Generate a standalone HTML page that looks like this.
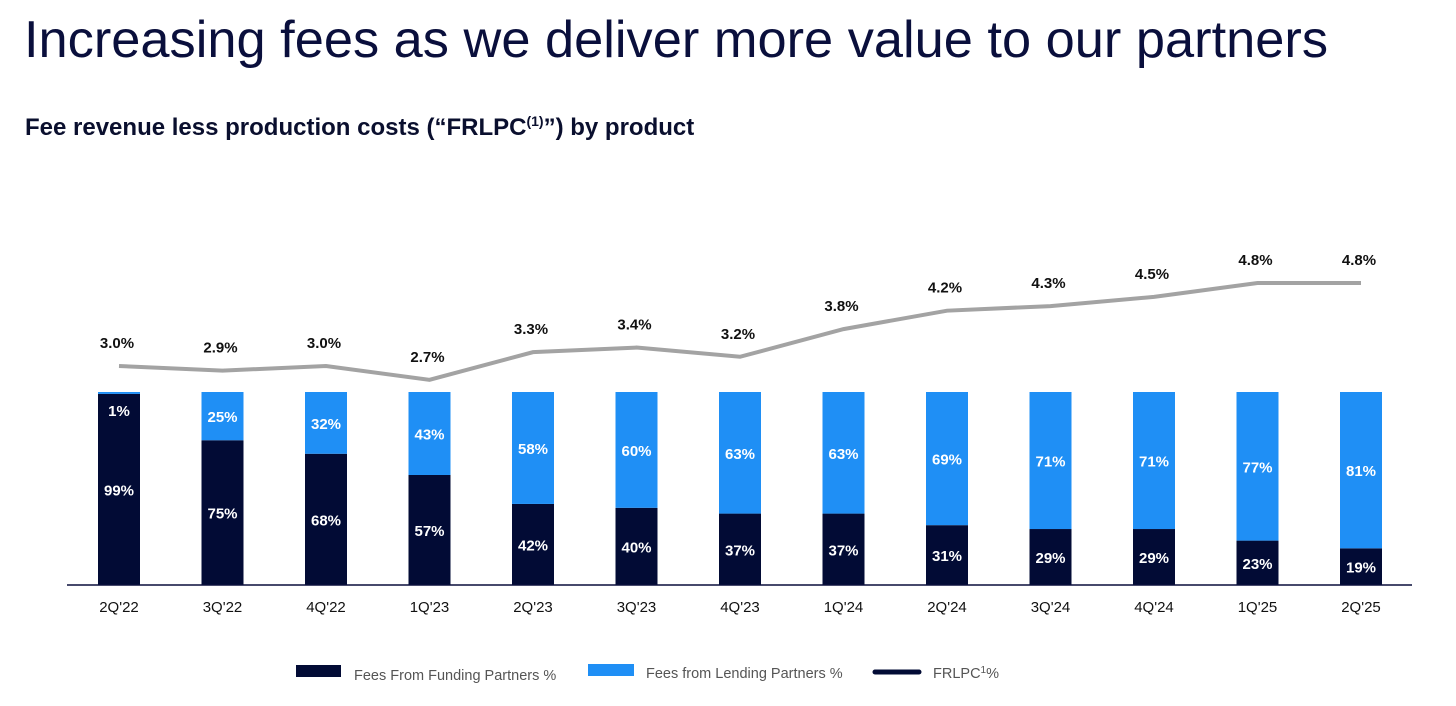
<!DOCTYPE html>
<html><head><meta charset="utf-8"><style>
body{margin:0;background:#fff;width:1456px;height:701px;overflow:hidden;font-family:"Liberation Sans",Arial,sans-serif;}
</style></head><body>
<svg width="1456" height="701" xmlns="http://www.w3.org/2000/svg">
<text x="24" y="57" font-size="52" fill="#0a0f3c" font-family="Liberation Sans" textLength="1304" lengthAdjust="spacingAndGlyphs">Increasing fees as we deliver more value to our partners</text>
<text x="25" y="135" font-size="24" font-weight="bold" fill="#0a0f2e" font-family="Liberation Sans">Fee revenue less production costs (“FRLPC<tspan font-size="14" dy="-9">(1)</tspan><tspan dy="9">”) by product</tspan></text>
<g id="bars"></g>
<line x1="67" y1="585" x2="1412" y2="585" stroke="#0a0f3c" stroke-width="1.5"/>
<g id="line"></g>
<g>
<rect x="296" y="665" width="45" height="12" fill="#020b35"/>
<text x="354" y="680" font-size="14.5" fill="#555">Fees From Funding Partners %</text>
<rect x="588" y="664" width="46" height="12" fill="#1f8ff5"/>
<text x="646" y="678" font-size="14.5" fill="#555">Fees from Lending Partners %</text>
<line x1="875" y1="672" x2="919" y2="672" stroke="#020b35" stroke-width="5" stroke-linecap="round"/>
<text x="933" y="678" font-size="14.5" fill="#555">FRLPC<tspan font-size="10" dy="-5">1</tspan><tspan dy="5">%</tspan></text>
</g>
</svg>
<script>
const categories=["2Q'22","3Q'22","4Q'22","1Q'23","2Q'23","3Q'23","4Q'23","1Q'24","2Q'24","3Q'24","4Q'24","1Q'25","2Q'25"];
const funding=[99,75,68,57,42,40,37,37,31,29,29,23,19];
const lending=[1,25,32,43,58,60,63,63,69,71,71,77,81];
const frlpc=[3.0,2.9,3.0,2.7,3.3,3.4,3.2,3.8,4.2,4.3,4.5,4.8,4.8];
const NS="http://www.w3.org/2000/svg";
const x0=119,step=103.5,bw=42,base=585,fullH=193;
function xc(i){return x0+i*step;}
function yb(p){return base-p/100*fullH;}
function yl(v){return 366-(v-3.0)*46.1;}
function mk(tag,attrs,parent){const e=document.createElementNS(NS,tag);for(const k in attrs)e.setAttribute(k,attrs[k]);parent.appendChild(e);return e;}
const bars=document.getElementById('bars'),lg=document.getElementById('line');
categories.forEach((c,i)=>{
 const x=xc(i)-bw/2;
 const f=mk('rect',{x:x,y:yb(funding[i]),width:bw,height:base-yb(funding[i]),fill:'#020b35'},bars);
 
 
 const top=yb(funding[i]+lending[i]);
 const l=mk('rect',{x:x,y:top,width:bw,height:yb(funding[i])-top,fill:'#1f8ff5'},bars);
 
 
 const ft=mk('text',{x:xc(i),y:(yb(funding[i])+base)/2+6,'font-size':15,'font-weight':'bold',fill:'#fff','text-anchor':'middle'},bars);
 ft.textContent=funding[i]+'%';
 
 
 const lt=mk('text',{x:xc(i),y:(top+yb(funding[i]))/2+6,'font-size':15,'font-weight':'bold',fill:'#fff','text-anchor':'middle'},bars);
 lt.textContent=lending[i]+'%';
 if(lending[i]<5){lt.setAttribute('y',top+24);}
 
 
 const xt=mk('text',{x:xc(i),y:612,'font-size':15,fill:'#111','text-anchor':'middle'},bars);
 xt.textContent=c;
 
 
 const vt=mk('text',{x:xc(i)-2,y:yl(frlpc[i])-18,'font-size':15,'font-weight':'bold',fill:'#111','text-anchor':'middle'},lg);
 vt.textContent=frlpc[i].toFixed(1)+'%';
 
 
});
const pl=mk('polyline',{points:frlpc.map((v,i)=>xc(i)+','+yl(v)).join(' '),fill:'none',stroke:'#a3a3a3','stroke-width':4},lg);


</script>
</body></html>
